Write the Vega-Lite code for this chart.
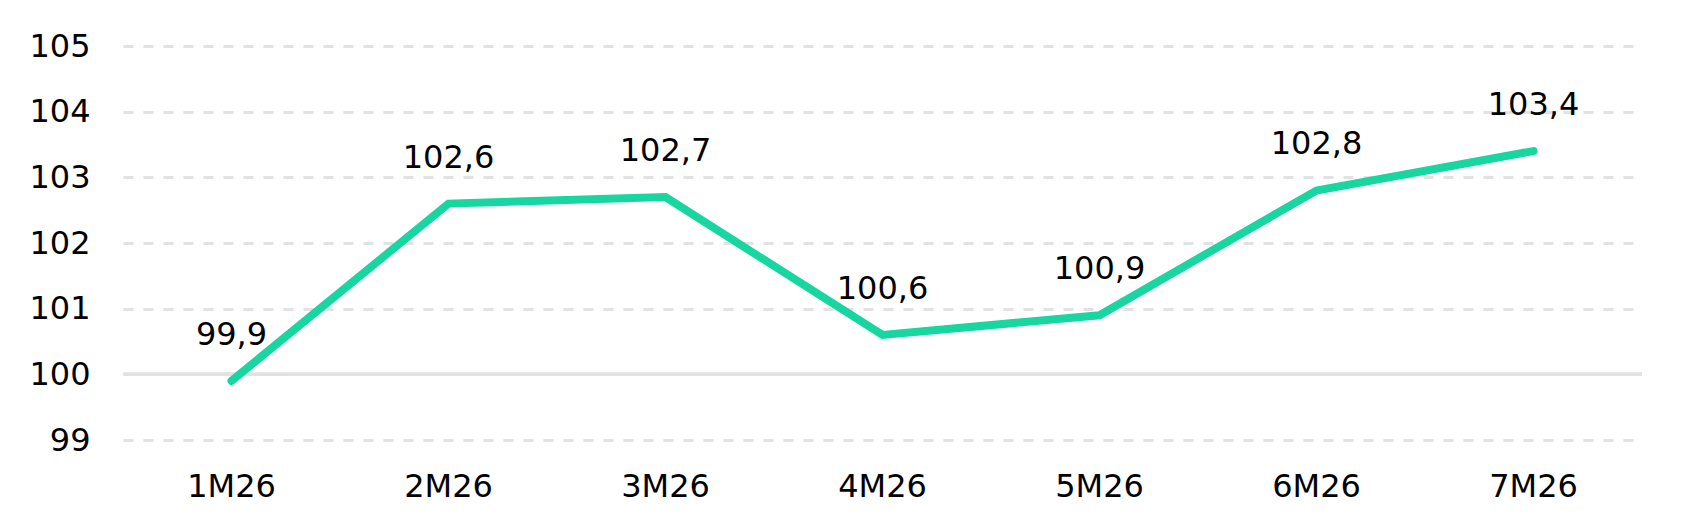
{
  "$schema": "https://vega.github.io/schema/vega-lite/v6.json",
  "autosize": {"type": "none"},
  "padding": {"left": 123, "top": 46, "right": 47, "bottom": 91},
  "width": 1519,
  "height": 394,
  "background": "white",
  "config": {
    "view": {"stroke": null},
    "locale": {"number": {"decimal": ",", "thousands": ".", "grouping": [3], "currency": ["", " €"]}},
    "font": "DejaVu Sans"
  },
  "data": {
    "values": [
      {"period": "1M26", "value": 99.9},
      {"period": "2M26", "value": 102.6},
      {"period": "3M26", "value": 102.7},
      {"period": "4M26", "value": 100.6},
      {"period": "5M26", "value": 100.9},
      {"period": "6M26", "value": 102.8},
      {"period": "7M26", "value": 103.4}
    ]
  },
  "encoding": {
    "x": {
      "field": "period",
      "type": "ordinal",
      "sort": null,
      "scale": {"type": "band", "paddingInner": 0, "paddingOuter": 0},
      "axis": {
        "title": null,
        "domain": false,
        "ticks": false,
        "tickSize": 0,
        "labelAngle": 0,
        "labelFont": "DejaVu Sans",
        "labelFontSize": 32,
        "labelColor": "#000000",
        "labelBaseline": "alphabetic",
        "labelPadding": 56,
        "grid": false
      }
    },
    "y": {
      "field": "value",
      "type": "quantitative",
      "scale": {"domain": [99, 105], "nice": false, "zero": false},
      "axis": {
        "title": null,
        "domain": false,
        "ticks": false,
        "tickSize": 0,
        "values": [99, 100, 101, 102, 103, 104, 105],
        "labelFont": "DejaVu Sans",
        "labelFontSize": 32,
        "labelColor": "#000000",
        "labelPadding": 33,
        "grid": true,
        "gridColor": "#e2e2e2",
        "gridWidth": 3,
        "gridDash": [10, 10]
      }
    }
  },
  "layer": [
    {
      "mark": {"type": "rule", "color": "#e2e2e2", "strokeWidth": 3},
      "encoding": {
        "x": {"value": 0},
        "x2": {"value": 1519},
        "y": {"datum": 100}
      }
    },
    {
      "mark": {"type": "line", "color": "#18d6a0", "strokeWidth": 8, "strokeCap": "round", "strokeJoin": "miter"}
    },
    {
      "mark": {"type": "text", "dy": -36, "baseline": "alphabetic", "align": "center", "fontSize": 32, "font": "DejaVu Sans", "color": "#000000"},
      "encoding": {
        "text": {"field": "value", "type": "quantitative", "format": ".1f"}
      }
    }
  ]
}
